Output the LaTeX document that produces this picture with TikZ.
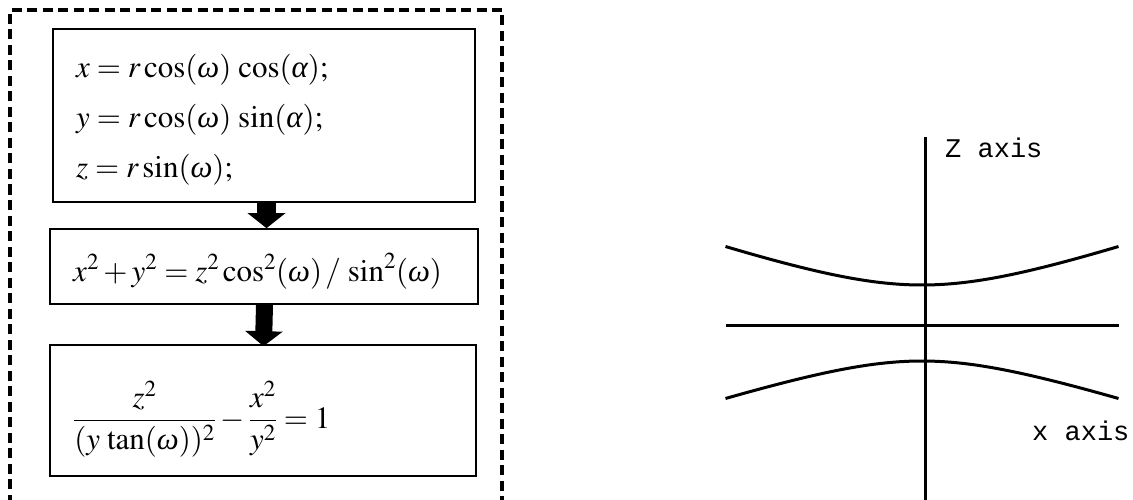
\documentclass[tikz,border=0pt]{standalone}
\usepackage{mathptmx}
\usepackage[no-math]{fontspec}
\setmainfont{Liberation Serif}
\newfontfamily\axisfont{Liberation Mono}
\usetikzlibrary{arrows.meta}

% italic Greek letters taken from the serif text font
\newcommand{\gom}{\mbox{\itshape ω}}
\newcommand{\gal}{\mbox{\itshape α}}

\tikzset{
  eqbox/.style={draw=black, line width=1.6pt, inner sep=0pt, rectangle},
  eqfont/.style={font=\fontsize{31}{36}\selectfont},
  eqtext/.style={eqfont, anchor=base west, inner sep=0pt},
  blockarrow/.style={line width=#1, -{Triangle[width=37pt, length=15pt]}},
  frame/.style={line width=3.5pt, dash pattern=on 10pt off 5.5pt},
  axis/.style={line width=3pt},
  curve/.style={line width=3pt},
  axislabel/.style={anchor=base west, inner sep=0pt, font=\axisfont\fontsize{27}{30}\selectfont}
}

\begin{document}
\begin{tikzpicture}[x=1pt, y=-1pt]
  \useasboundingbox (0,0) rectangle (1133,500);

  % dashed frame around the derivation, open at the bottom
  \draw[frame] (10,520) -- (10,10) -- (502,10) -- (502,520);

  % the three steps
  \node[eqbox, minimum width=422pt, minimum height=173pt] (b1) at (264,115.5) {};
  \node[eqbox, minimum width=428pt, minimum height=75pt] (b2) at (264,266.5) {};
  \node[eqbox, minimum width=426pt, minimum height=131pt] (b3) at (263,410.5) {};

  \node[eqtext] (t1) at (76,78)  {$x=r\cos(\gom)\,\cos(\gal);$};
  \node[eqtext] (t2) at (76,128) {$y=r\cos(\gom)\,\sin(\gal);$};
  \node[eqtext] (t3) at (76,178) {$z=r\sin(\gom);$};

  \node[eqtext] (t4) at (73,281)
    {$x^2+y^2=z^2\cos^2(\gom)\,/\,\sin^2(\gom)$};

  \node[eqfont, anchor=west, inner sep=0pt] (t5) at (73,419)
    {$\displaystyle\frac{z^2}{(y\,\tan(\gom))^2}-\frac{x^2}{y^2}=1$};

  % block arrows between the steps
  \draw[blockarrow=19pt] ([xshift=2.5pt]b1.south) -- ([xshift=2.5pt]b2.north);
  \draw[blockarrow=17pt] ([xshift=0.5pt]b2.south) -- ([xshift=0.5pt,yshift=-2pt]b3.north);

  % sketch of the hyperboloid section
  \coordinate (ztop) at (925,137);
  \coordinate (zbot) at (925,505);
  \coordinate (xl) at (726,325);
  \coordinate (xr) at (1119,325);
  \draw[axis] (ztop) -- (zbot);
  \draw[axis] (xl) -- (xr);

  \draw[curve] plot[domain=-196.5:196.5, samples=80]
    ({922+\x}, {325-sqrt(1600+(0.3437*\x)^2)});
  \draw[curve] plot[domain=-196.5:196.5, samples=80]
    ({922+\x}, {325+sqrt(1296+(0.3261*\x)^2)});

  \node[axislabel] (zl) at (945,158) {Z axis};
  \node[axislabel] (xlab) at (1032,440) {x axis};
\end{tikzpicture}
\end{document}
